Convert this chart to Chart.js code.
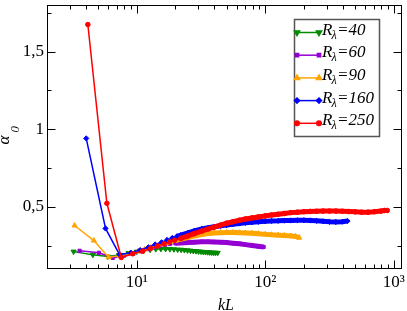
<!DOCTYPE html>
<html>
<head>
<meta charset="utf-8">
<script src="https://cdn.jsdelivr.net/npm/chart.js@4.4.1/dist/chart.umd.min.js"></script>
<style>
  html, body { margin: 0; padding: 0; background: #fff; }
  #wrap { width: 407px; height: 311px; position: relative; }
</style>
</head>
<body>
<div id="wrap"><canvas id="alphaChart"></canvas></div>
<script>
// alpha_0 against kL for each R_lambda
const kL40 = [3.22, 4.55, 5.95, 7.3, 8.65, 10.0, 11.35, 12.7, 14.05, 15.4, 16.75, 18.1, 19.45, 20.8, 22.15,
              23.5, 24.85, 26.2, 27.55, 28.9, 30.25, 31.6, 32.95, 34.3, 35.65, 37.0, 38.35, 39.7, 41.05, 42.6];
const alpha40 = [0.212, 0.191, 0.18, 0.19, 0.203, 0.212, 0.219, 0.224, 0.228, 0.229, 0.229, 0.228, 0.227, 0.225, 0.224,
                 0.222, 0.22, 0.218, 0.216, 0.215, 0.213, 0.212, 0.21, 0.209, 0.208, 0.207, 0.206, 0.205, 0.205, 0.204];

const kL60 = [3.59, 5.07, 6.5, 7.95, 9.4, 10.8, 12.3, 13.7, 15.2, 16.6, 18.1, 20, 22, 25, 28,
              32, 36, 40, 45, 50, 56, 63, 70, 79, 88, 97];
const alpha60 = [0.217, 0.204, 0.172, 0.186, 0.2, 0.214, 0.228, 0.24, 0.25, 0.256, 0.261, 0.265, 0.268, 0.271, 0.273,
                 0.275, 0.275, 0.274, 0.272, 0.27, 0.266, 0.262, 0.257, 0.251, 0.246, 0.242];

const kL90 = [3.28, 4.63, 6.03, 7.4, 8.8, 10.2, 11.5, 12.9, 14.3, 15.6, 17, 18.4, 20, 22, 25,
              28, 32, 36, 40, 45, 50, 56, 63, 70, 79, 88, 100, 112, 126, 141, 158, 172, 184];
const alpha90 = [0.38, 0.283, 0.176, 0.186, 0.2, 0.213, 0.226, 0.238, 0.249, 0.258, 0.267, 0.275, 0.283, 0.292, 0.303,
                 0.313, 0.322, 0.328, 0.332, 0.334, 0.335, 0.335, 0.334, 0.332, 0.33, 0.327, 0.323, 0.32, 0.318, 0.316, 0.313, 0.31, 0.302];

const kL160 = [4.04, 5.71, 7.34, 9.0, 10.6, 12.3, 13.9, 15.6, 17.2, 18.9, 20.5, 22, 25, 28, 32,
               36, 40, 45, 50, 56, 63, 70, 79, 88, 100, 112, 126, 141, 158, 178, 200, 224, 251, 282, 316, 355, 398, 437];
const alpha160 = [0.941, 0.361, 0.193, 0.205, 0.222, 0.24, 0.258, 0.272, 0.287, 0.3, 0.31, 0.318, 0.333, 0.346, 0.358,
                  0.366, 0.372, 0.378, 0.383, 0.388, 0.393, 0.397, 0.401, 0.404, 0.407, 0.409, 0.41, 0.412, 0.413, 0.414,
                  0.414, 0.413, 0.41, 0.407, 0.404, 0.403, 0.405, 0.409];

const kL250 = [4.16, 5.85, 7.57, 9.3, 11.1, 12.8, 14.5, 16.3, 18.0, 19.7, 22, 25, 28, 32, 36,
               40, 45, 50, 56, 63, 70, 79, 88, 100, 112, 126, 141, 158, 178, 200, 224, 251, 282, 316, 355,
               398, 447, 501, 562, 631, 708, 794, 850, 891];
const alpha250 = [1.674, 0.523, 0.174, 0.198, 0.215, 0.232, 0.248, 0.262, 0.274, 0.285, 0.297, 0.313, 0.328, 0.344, 0.358,
                  0.37, 0.383, 0.395, 0.404, 0.414, 0.422, 0.429, 0.435, 0.442, 0.448, 0.453, 0.458, 0.463, 0.466, 0.469,
                  0.471, 0.472, 0.473, 0.473, 0.473, 0.472, 0.47, 0.468, 0.466, 0.466, 0.469, 0.473, 0.477, 0.477];

const rLambda = ['40', '60', '90', '160', '250'];
const xTicks = [10, 100, 1000];
const xTickLabels = ['10¹', '10²', '10³'];
const yTicks = [0.5, 1, 1.5];
const yTickLabels = ['0,5', '1', '1,5'];
const yMinorTicks = [0.25, 0.75, 1.25, 1.75];

const serif = '"Liberation Serif", "Times New Roman", serif';

const styles = [
    { color: 'rgb(0,139,0)',   pointStyle: 'triangle', rotation: 180, radius: 3,   thick: false },
    { color: 'rgb(148,0,211)', pointStyle: 'rect',     rotation: 0,   radius: 2.3, thick: true },
    { color: 'rgb(255,165,0)', pointStyle: 'triangle', rotation: 0,   radius: 3,   thick: true },
    { color: 'rgb(0,0,255)',   pointStyle: 'rectRot',  rotation: 0,   radius: 2.6, thick: true },
    { color: 'rgb(255,0,0)',   pointStyle: 'circle',   rotation: 0,   radius: 2.3, thick: true }
];

function toPoints(xs, ys) {
    return xs.map((x, i) => ({ x: x, y: ys[i] }));
}

const allData = [
    toPoints(kL40, alpha40),
    toPoints(kL60, alpha60),
    toPoints(kL90, alpha90),
    toPoints(kL160, alpha160),
    toPoints(kL250, alpha250)
];

const datasets = allData.map((pts, i) => {
    const s = styles[i];
    return {
        label: 'R=' + rLambda[i],
        data: pts,
        borderColor: s.color,
        backgroundColor: s.color,
        pointBackgroundColor: s.color,
        pointBorderColor: s.color,
        pointBorderWidth: 1,
        pointStyle: s.pointStyle,
        pointRotation: s.rotation,
        pointRadius: s.radius,
        borderWidth: 1.5,
        order: 4 - i,
        segment: {
            // the real data is very dense at large kL, markers merge into a thick band
            borderWidth: ctx => (s.thick && ctx.p0.parsed.x >= 20) ? 5 : 1.5
        }
    };
});

// no extra room for tick labels, the plot box is fixed
function noPadding(scale) {
    scale.paddingTop = 0;
    scale.paddingBottom = 0;
    scale.paddingLeft = 0;
    scale.paddingRight = 0;
}

// frame, inward ticks, legend and axis titles
const decorPlugin = {
    id: 'decor',
    afterDraw(chart) {
        const ctx = chart.ctx;
        const a = chart.chartArea;
        const xs = chart.scales.x, ys = chart.scales.y;
        const L = Math.round(a.left) + 0.5, R = Math.round(a.right) - 0.5;
        const T = Math.round(a.top) + 0.5, B = Math.round(a.bottom) - 0.5;

        ctx.save();
        ctx.strokeStyle = '#000';
        ctx.lineWidth = 1;
        ctx.strokeRect(L, T, R - L, B - T);

        ctx.beginPath();
        const xMinor = [];
        for (let d = 1; d <= 1000; d *= 10) {
            for (let m = 2; m <= 9; m++) {
                const v = m * d;
                if (v >= xs.min && v <= xs.max) xMinor.push(v);
            }
        }
        xTicks.forEach(v => {
            const p = Math.round(xs.getPixelForValue(v)) + 0.5;
            ctx.moveTo(p, B); ctx.lineTo(p, B - 8);
            ctx.moveTo(p, T); ctx.lineTo(p, T + 8);
        });
        xMinor.forEach(v => {
            const p = Math.round(xs.getPixelForValue(v)) + 0.5;
            ctx.moveTo(p, B); ctx.lineTo(p, B - 4);
            ctx.moveTo(p, T); ctx.lineTo(p, T + 4);
        });
        yTicks.forEach(v => {
            const p = Math.round(ys.getPixelForValue(v)) + 0.5;
            ctx.moveTo(L, p); ctx.lineTo(L + 8, p);
            ctx.moveTo(R, p); ctx.lineTo(R - 8, p);
        });
        yMinorTicks.forEach(v => {
            const p = Math.round(ys.getPixelForValue(v)) + 0.5;
            ctx.moveTo(L, p); ctx.lineTo(L + 4, p);
            ctx.moveTo(R, p); ctx.lineTo(R - 4, p);
        });
        ctx.stroke();

        // legend box
        ctx.fillStyle = '#fff';
        ctx.fillRect(294, 19, 85, 117);
        ctx.strokeStyle = '#555';
        ctx.lineWidth = 1.5;
        ctx.strokeRect(294.5, 19.5, 85, 117);

        rLambda.forEach((r, i) => {
            const s = styles[i];
            const y = 32.5 + i * 22.7;
            ctx.strokeStyle = s.color;
            ctx.fillStyle = s.color;
            ctx.lineWidth = 1.5;
            ctx.beginPath();
            ctx.moveTo(297, y); ctx.lineTo(319, y);
            ctx.stroke();
            [297, 319].forEach(px => {
                Chart.helpers.drawPoint(ctx, {
                    pointStyle: s.pointStyle, rotation: s.rotation,
                    radius: s.radius, borderWidth: 1
                }, px, y);
            });

            ctx.fillStyle = '#000';
            ctx.textAlign = 'left';
            ctx.textBaseline = 'alphabetic';
            ctx.font = 'italic 17px ' + serif;
            let tx = 322;
            ctx.fillText('R', tx, y + 2);
            tx += ctx.measureText('R').width - 1;
            ctx.font = 'italic 12px ' + serif;
            ctx.fillText('λ', tx, y + 6);
            tx += ctx.measureText('λ').width + 0.5;
            ctx.font = 'italic 17px ' + serif;
            ctx.fillText('=' + r, tx, y + 2);
        });

        // axis titles
        ctx.fillStyle = '#000';
        ctx.textBaseline = 'alphabetic';
        ctx.font = 'italic 16px ' + serif;
        ctx.textAlign = 'center';
        ctx.fillText('kL', 226, 310);

        ctx.textAlign = 'left';
        ctx.save();
        ctx.translate(8.5, 144.5);
        ctx.rotate(-Math.PI / 2);
        ctx.font = 'italic 17px ' + serif;
        ctx.fillText('α', 0, 0);
        ctx.restore();
        ctx.save();
        ctx.translate(19, 132.5);
        ctx.rotate(-Math.PI / 2);
        ctx.font = 'italic 13px ' + serif;
        ctx.fillText('0', 0, 0);
        ctx.restore();

        ctx.restore();
    }
};

const ctx = document.getElementById('alphaChart').getContext('2d');
const chartInstance = new Chart(ctx, {
    type: 'line',
    data: { datasets: datasets },
    options: {
        responsive: true,
        maintainAspectRatio: false,
        animation: false,
        devicePixelRatio: 1,
        layout: { padding: { top: 1, right: 3, left: 0, bottom: 0 } },
        plugins: {
            legend: { display: false },
            tooltip: { enabled: false }
        },
        scales: {
            x: {
                type: 'logarithmic',
                min: 2,
                max: 1160,
                grid: { display: false, drawTicks: false },
                border: { display: false },
                afterBuildTicks: scale => { scale.ticks = xTicks.map(v => ({ value: v })); },
                afterFit: scale => { scale.height = 42; noPadding(scale); },
                ticks: {
                    color: '#000',
                    font: { family: serif, size: 17 },
                    padding: 3,
                    maxRotation: 0,
                    autoSkip: false,
                    callback: (value, index) => xTickLabels[index]
                }
            },
            y: {
                type: 'linear',
                min: 0.1,
                max: 1.8,
                grid: { display: false, drawTicks: false },
                border: { display: false },
                afterBuildTicks: scale => { scale.ticks = yTicks.map(v => ({ value: v })); },
                afterFit: scale => { scale.width = 47; noPadding(scale); },
                ticks: {
                    color: '#000',
                    font: { family: serif, size: 17 },
                    padding: 3,
                    autoSkip: false,
                    callback: (value, index) => yTickLabels[index]
                }
            }
        }
    },
    plugins: [decorPlugin]
});
</script>
</body>
</html>
